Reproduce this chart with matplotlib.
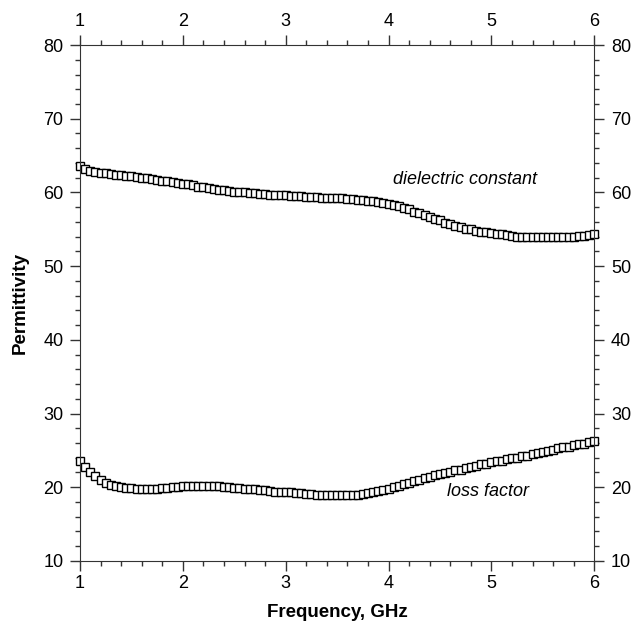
import numpy as np
import matplotlib
matplotlib.use("Agg")
import matplotlib.pyplot as plt
from matplotlib.ticker import MultipleLocator

plt.rcParams['font.family'] = ['Liberation Sans', 'DejaVu Sans']

# frequency points, 1 to 6 GHz every 0.05 GHz
freq = np.round(np.arange(1.0, 6.0001, 0.05), 2)

dielectric = [
    63.6, 63.2, 62.9, 62.8, 62.7, 62.6, 62.5, 62.4, 62.4, 62.3,
    62.2, 62.1, 62.0, 61.9, 61.8, 61.7, 61.6, 61.5, 61.4, 61.3,
    61.2, 61.1, 61.0, 60.8, 60.7, 60.6, 60.5, 60.4, 60.3, 60.2,
    60.1, 60.0, 60.0, 59.9, 59.9, 59.8, 59.8, 59.7, 59.7, 59.6,
    59.6, 59.5, 59.5, 59.5, 59.4, 59.4, 59.4, 59.3, 59.3, 59.3,
    59.2, 59.2, 59.1, 59.1, 59.0, 59.0, 58.9, 58.8, 58.7, 58.6,
    58.4, 58.3, 58.1, 57.9, 57.7, 57.4, 57.2, 56.9, 56.7, 56.4,
    56.2, 55.9, 55.7, 55.5, 55.3, 55.1, 55.0, 54.8, 54.7, 54.6,
    54.5, 54.4, 54.3, 54.2, 54.1, 54.0, 54.0, 53.9, 53.9, 53.9,
    53.9, 53.9, 53.9, 53.9, 54.0, 54.0, 54.0, 54.1, 54.1, 54.2,
    54.3,
]

loss = [
    23.6, 22.8, 22.1, 21.5, 21.0, 20.6, 20.3, 20.1, 20.0, 19.9,
    19.9, 19.8, 19.8, 19.8, 19.8, 19.8, 19.9, 19.9, 20.0, 20.0,
    20.1, 20.1, 20.2, 20.2, 20.2, 20.2, 20.1, 20.1, 20.0, 20.0,
    19.9, 19.9, 19.8, 19.8, 19.7, 19.6, 19.6, 19.5, 19.4, 19.4,
    19.3, 19.3, 19.2, 19.2, 19.1, 19.1, 19.0, 19.0, 19.0, 18.9,
    18.9, 18.9, 18.9, 19.0, 19.0, 19.1, 19.2, 19.3, 19.5, 19.6,
    19.8, 20.0, 20.2, 20.4, 20.6, 20.8, 21.0, 21.2, 21.4, 21.6,
    21.8, 21.9, 22.1, 22.3, 22.4, 22.6, 22.8, 22.9, 23.1, 23.2,
    23.4, 23.5, 23.6, 23.8, 23.9, 24.0, 24.2, 24.3, 24.5, 24.6,
    24.8, 24.9, 25.1, 25.3, 25.4, 25.5, 25.7, 25.8, 25.9, 26.1,
    26.3,
]

fig = plt.figure(figsize=(6.35, 6.26), dpi=100)
ax = fig.add_axes([0.126, 0.104, 0.810, 0.824])

for series in (dielectric, loss):
    ax.plot(freq, series, linestyle='none', marker='s', markersize=6,
            markerfacecolor='white', markeredgecolor='black',
            markeredgewidth=1.0, clip_on=False)

ax.set_xlim(1, 6)
ax.set_ylim(10, 80)
ax.xaxis.set_major_locator(MultipleLocator(1))
ax.xaxis.set_minor_locator(MultipleLocator(0.2))
ax.yaxis.set_major_locator(MultipleLocator(10))
ax.yaxis.set_minor_locator(MultipleLocator(2))

ax.tick_params(which='both', direction='out', top=True, right=True,
               labeltop=True, labelright=True, labelsize=13, color='#333333')
ax.tick_params(which='major', length=7, width=1)
ax.tick_params(which='minor', length=3.6, width=1)
ax.tick_params(axis='y', which='major', pad=5)
for s in ax.spines.values():
    s.set_color('#333333')

ax.set_xlabel('Frequency, GHz', fontsize=13.5, fontweight='bold', labelpad=8)
ax.set_ylabel('Permittivity', fontsize=13.5, fontweight='bold', labelpad=10)

ax.text(4.745, 61.8, 'dielectric constant', fontsize=13, style='italic',
        ha='center', va='center')
ax.text(4.97, 19.4, 'loss factor', fontsize=13, style='italic',
        ha='center', va='center')

fig.savefig('out.png', dpi=100)
